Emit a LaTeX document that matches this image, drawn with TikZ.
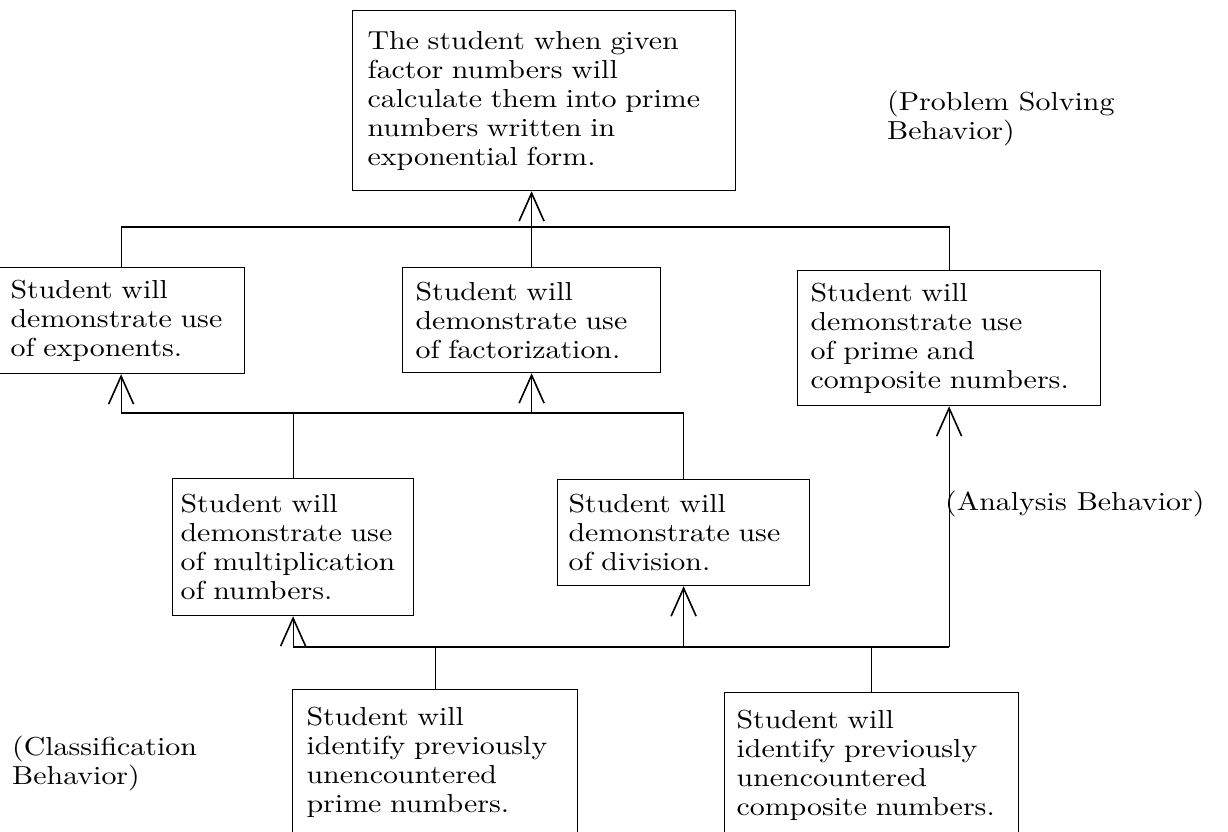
\documentclass[tikz,border=0pt]{standalone}
\usepackage{fontspec}
\setmainfont{lmroman10-regular.otf}[FakeStretch=1.15]
\usetikzlibrary{arrows, arrows.meta, positioning, calc}
\newcommand{\boxfont}{\fontsize{26}{29}\selectfont}
\tikzset{goal/.style = {
  % Rectangle:
  rectangle,
  draw=black, line width=1.2pt,
  anchor=north west,
  inner ysep=2pt, inner xsep=13pt,
  % Text
  align=left,
  font=\boxfont
  }}
\tikzset{behavior/.style = {
  anchor=north west,
  inner sep=0pt,
  align=left,
  font=\boxfont
  }}
\tikzset{link/.style = {
  draw=black,
  line width=1.2pt
  }}
\tikzset{arrow/.style = {
  link,
  -{Straight Barb[length=28pt, width=25pt, line width=1.6pt]}
  }}

\begin{document}
\begin{tikzpicture}[x=1pt, y=-1pt]
\useasboundingbox (0,0) rectangle (1228,831);

% NODES
\node (goal) [goal, minimum width=383pt, minimum height=180pt, text width=353pt] at (352,10)
  {The student when given\\factor numbers will\\calculate them into prime\\numbers written in\\exponential form.};

\node (expo) [goal, minimum width=247pt, minimum height=106pt, text width=221pt] at (-3,267)
  {Student will\\demonstrate use\\of exponents.};
\node (factor) [goal, minimum width=258pt, minimum height=105pt, text width=232pt] at (402,267)
  {Student will\\demonstrate use\\of factorization.};
\node (primecomp) [goal, minimum width=303pt, minimum height=135pt, text width=277pt] at (797,270)
  {Student will\\demonstrate use\\of prime and\\composite numbers.};

\node (mult) [goal, inner xsep=8pt, minimum width=241pt, minimum height=137pt, text width=225pt] at (172,478)
  {Student will\\demonstrate use\\of multiplication\\of numbers.};
\node (div) [goal, inner xsep=11pt, minimum width=252pt, minimum height=106pt, text width=230pt] at (557,479)
  {Student will\\demonstrate use\\of division.};

\node (identprime) [goal, inner xsep=14pt, minimum width=285pt, minimum height=146pt, text width=257pt] at (292,689)
  {Student will\\identify previously\\unencountered\\prime numbers.};
\node (identcomp) [goal, inner xsep=12pt, minimum width=294pt, minimum height=146pt, text width=270pt] at (724,692)
  {Student will\\identify previously\\unencountered\\composite numbers.};

\node (ps) [behavior] at (887,91) {(Problem Solving\\Behavior)};
\node (ana) [behavior] at (945,491) {(Analysis Behavior)};
\node (cls) [behavior] at (12,736) {(Classification\\Behavior)};

\coordinate (topbus) at (0,227);
\coordinate (midbus) at (0,413);
\coordinate (lowbus) at (0,647);

% arrows
\draw [link] (expo.north) -- (expo.north |- topbus) -- (primecomp.north |- topbus) -- (primecomp.north);
\draw [arrow] (factor.north) -- (factor.north |- goal.south);

\draw [link] (expo.south |- midbus) -- (div.north |- midbus) -- (div.north);
\draw [link] (mult.north) -- (mult.north |- midbus);
\draw [arrow] (expo.south |- midbus) -- (expo.south);
\draw [arrow] (factor.south |- midbus) -- (factor.south);

\draw [link] (mult.south |- lowbus) -- (primecomp.south |- lowbus);
\draw [arrow] (mult.south |- lowbus) -- (mult.south);
\draw [arrow] (div.south |- lowbus) -- (div.south);
\draw [arrow] (primecomp.south |- lowbus) -- (primecomp.south);

\draw [link] (identprime.north) -- (identprime.north |- lowbus);
\draw [link] (identcomp.north) -- (identcomp.north |- lowbus);
\end{tikzpicture}
\end{document}
